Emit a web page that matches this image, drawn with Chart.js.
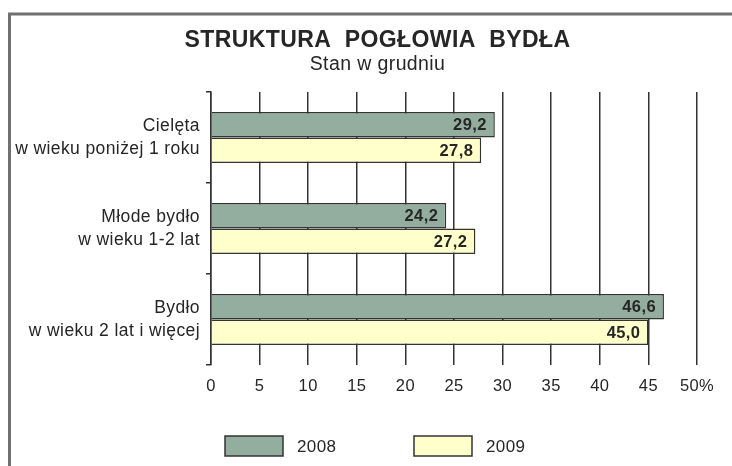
<!DOCTYPE html>
<html>
<head>
<meta charset="utf-8">
<script src="https://cdn.jsdelivr.net/npm/chart.js@4/dist/chart.umd.min.js"></script>
<style>
  html, body { margin: 0; padding: 0; background: #fff; }
  canvas { display: block; }
</style>
</head>
<body>
<canvas id="plot" width="732" height="466"></canvas>
<script>
// dane
const categories = [
  ['Cielęta', 'w wieku poniżej 1 roku'],
  ['Młode bydło', 'w wieku 1-2 lat'],
  ['Bydło', 'w wieku 2 lat i więcej']
];
const years = ['2008', '2009'];
const values2008 = [29.2, 24.2, 46.6];
const values2009 = [27.8, 27.2, 45.0];
const xTicks = [0, 5, 10, 15, 20, 25, 30, 35, 40, 45, 50];

const FONT = "'Liberation Sans', Arial, sans-serif";
const INK = '#262626';
const green = '#93ad9f';
const yellow = '#ffffcc';
const SPACING = '0.4px';

// lekko szerszy odstęp liter jak w oryginale (zmiana rozmiaru canvasu kasuje stan, więc ustawiamy kilka razy)
const setSpacing = chart => { chart.ctx.letterSpacing = SPACING; };
const spacingPlugin = {
  id: 'spacing',
  beforeUpdate: setSpacing,
  beforeLayout: setSpacing,
  beforeDraw: setSpacing
};

// tytuł i podtytuł wyśrodkowane trochę bardziej w prawo, jak w oryginale
const titleShift = {
  id: 'titleShift',
  afterLayout(chart) {
    chart.boxes.forEach(b => {
      if (b.options && b.options.text !== undefined && !b.axis) b.left = 58;
    });
  }
};

// ramka (tylko góra i lewa strona, jak w oryginale)
const framePlugin = {
  id: 'frame',
  beforeDraw(chart) {
    const c = chart.ctx;
    c.save();
    c.strokeStyle = '#707070';
    c.lineWidth = 3;
    c.beginPath();
    c.moveTo(9.5, chart.height);
    c.lineTo(9.5, 14);
    c.lineTo(chart.width, 14);
    c.stroke();
    c.restore();
  }
};

// etykiety wartości na końcach słupków
const valueLabels = {
  id: 'valueLabels',
  afterDatasetsDraw(chart) {
    const c = chart.ctx;
    c.save();
    c.letterSpacing = '0.4px';
    c.font = 'bold 16.5px ' + FONT;
    c.fillStyle = INK;
    c.textAlign = 'right';
    c.textBaseline = 'middle';
    chart.data.datasets.forEach((ds, i) => {
      chart.getDatasetMeta(i).data.forEach((bar, j) => {
        const txt = ds.data[j].toFixed(1).replace('.', ',');
        c.fillText(txt, bar.x - 8, bar.y + 1);
      });
    });
    c.restore();
  }
};

// legenda na dole
const bottomLegend = {
  id: 'bottomLegend',
  afterDraw(chart) {
    const c = chart.ctx;
    const y = 436;
    const starts = [225, 414];
    c.save();
    c.letterSpacing = SPACING;
    c.font = '17px ' + FONT;
    c.textBaseline = 'middle';
    c.textAlign = 'left';
    chart.data.datasets.forEach((ds, i) => {
      const x = starts[i];
      c.fillStyle = ds.backgroundColor;
      c.fillRect(x, y, 58, 20);
      c.strokeStyle = '#333';
      c.lineWidth = 1.5;
      c.strokeRect(x, y, 58, 20);
      c.fillStyle = INK;
      c.fillText(ds.label, x + 72, y + 11);
    });
    c.restore();
  }
};

const data = {
  labels: categories,
  datasets: [
    { label: years[0], data: values2008, backgroundColor: green, borderColor: '#333', borderWidth: 1.5 },
    { label: years[1], data: values2009, backgroundColor: yellow, borderColor: '#333', borderWidth: 1.5 }
  ]
};

const config = {
  type: 'bar',
  data: data,
  options: {
    indexAxis: 'y',
    responsive: false,
    animation: false,
    events: [],
    layout: { padding: { left: 0, right: 35, top: 0, bottom: 0 } },
    categoryPercentage: 0.56,
    barPercentage: 1.0,
    plugins: {
      legend: { display: false },
      tooltip: { enabled: false },
      title: {
        display: true,
        text: 'STRUKTURA  POGŁOWIA  BYDŁA',
        color: INK,
        font: { family: FONT, size: 23, weight: 'bold' },
        padding: { top: 27, bottom: 0 }
      },
      subtitle: {
        display: true,
        text: 'Stan w grudniu',
        color: INK,
        font: { family: FONT, size: 19.5, lineHeight: 1.0 },
        padding: { top: 0, bottom: 18 }
      }
    },
    scales: {
      x: {
        min: 0,
        max: 50,
        afterBuildTicks(scale) { scale.ticks = xTicks.map(v => ({ value: v })); },
        afterFit(scale) { scale.height = 101; },
        border: { display: false },
        grid: { color: '#333', lineWidth: 1.5, drawTicks: false },
        ticks: {
          color: INK,
          padding: 12,
          font: { family: FONT, size: 16.5 },
          callback: v => v === 50 ? '50%' : String(v)
        }
      },
      y: {
        afterFit(scale) { scale.width = 211; },
        border: { display: true, color: '#333', width: 1.5 },
        grid: { offset: true, drawOnChartArea: false, drawTicks: true, tickLength: 5, color: '#333', lineWidth: 1.5 },
        ticks: {
          color: INK,
          padding: 6,
          font: { family: FONT, size: 17.5, lineHeight: 1.28 }
        }
      }
    }
  },
  plugins: [spacingPlugin, titleShift, framePlugin, valueLabels, bottomLegend]
};

let ctx = document.getElementById('plot').getContext('2d');
let chart = new Chart(ctx, config);
</script>
</body>
</html>
